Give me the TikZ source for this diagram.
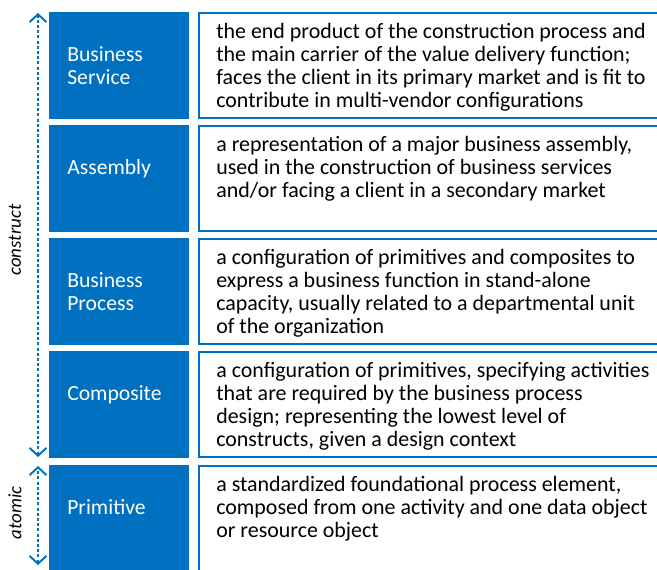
\documentclass[tikz,border=0pt]{standalone}
\usepackage{fontspec}
\setmainfont{Carlito}
\usetikzlibrary{arrows.meta}

\begin{document}
\begin{tikzpicture}[x=0.025cm, y=-0.025cm]
    \definecolor{levelBlue}{HTML}{0070C0}

    \tikzset{
        levelName/.style={anchor=north west, inner sep=0pt, align=left, text=white,
            font=\fontsize{15.4pt}{16.4pt}\selectfont},
        levelDef/.style={anchor=north west, inner sep=0pt, align=left, text=black,
            font=\fontsize{15.6pt}{16.4pt}\selectfont},
        scaleArrow/.style={levelBlue, line width=1.4pt, dash pattern=on 2.2pt off 1.5pt,
            {Straight Barb[length=5.5pt, width=12pt, line width=1.4pt]}-{Straight Barb[length=5.5pt, width=12pt, line width=1.4pt]}},
        scaleLabel/.style={rotate=90, font=\fontsize{13.4pt}{16.4pt}\selectfont\itshape}
    }

    \useasboundingbox (0,0) rectangle (657,570);
    \clip (0,0) rectangle (657,570);

    % One row per level: blue name box, outlined definition box
    \foreach \i/\top/\name/\desc in {
        1/12/{Business\\Service}/{the end product of the construction process and\\the main carrier of the value delivery function;\\faces the client in its primary market and is fit to\\contribute in multi-vendor configurations},
        2/125/{Assembly}/{a representation of a major business assembly,\\used in the construction of business services\\and/or facing a client in a secondary market},
        3/238/{Business\\Process}/{a configuration of primitives and composites to\\express a business function in stand-alone\\capacity, usually related to a departmental unit\\of the organization},
        4/351/{Composite}/{a configuration of primitives, specifying activities\\that are required by the business process\\design; representing the lowest level of\\constructs, given a design context},
        5/465/{Primitive}/{a standardized foundational process element,\\composed from one activity and one data object\\or resource object}} {
        \fill[levelBlue] (49,\top) rectangle ++(140,107);
        \draw[levelBlue, line width=1.4pt] (199,\top+1) rectangle (700,\top+106);
        \node[levelName] (name\i) at (67,\top+34) {\name};
        \node[levelDef] (def\i) at (216,\top+11) {\desc};
    }

    % Scale arrows on the left
    \coordinate (constructTop) at (38,13);
    \coordinate (constructBot) at (38,457);
    \coordinate (atomicTop) at (38,466);
    \coordinate (atomicBot) at (38,565);
    \draw[scaleArrow] (constructBot) -- (constructTop);
    \draw[scaleArrow] (atomicBot) -- (atomicTop);

    \node[scaleLabel] (construct) at (15,240) {construct};
    \node[scaleLabel] (atomic) at (15,513) {atomic};

\end{tikzpicture}
\end{document}
